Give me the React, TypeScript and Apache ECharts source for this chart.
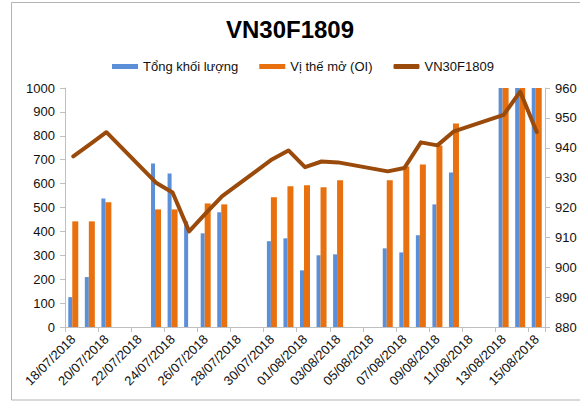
import React, { useEffect, useRef } from "react";
import * as echarts from "echarts";

const dates = [
  "18/07/2018", "19/07/2018", "20/07/2018", "21/07/2018", "22/07/2018",
  "23/07/2018", "24/07/2018", "25/07/2018", "26/07/2018", "27/07/2018",
  "28/07/2018", "29/07/2018", "30/07/2018", "31/07/2018", "01/08/2018",
  "02/08/2018", "03/08/2018", "04/08/2018", "05/08/2018", "06/08/2018",
  "07/08/2018", "08/08/2018", "09/08/2018", "10/08/2018", "11/08/2018",
  "12/08/2018", "13/08/2018", "14/08/2018", "15/08/2018",
];

const volume = [
  125, 209, 538, null, null,
  684, 642, 442, 392, 480,
  null, null, 359, 371, 237,
  300, 304, null, null, 329,
  312, 384, 513, 646, null,
  null, 1200, 1250, 1300,
];

const openInterest = [
  442, 442, 522, null, null,
  492, 492, null, 517, 513,
  null, null, 543, 589, 593,
  585, 614, null, null, 614,
  672, 680, 759, 851, null,
  null, 1150, 1200, 1250,
];

const price = [
  937.1, 941.1, 945.2, null, null,
  928.3, 925.0, 912.0, 918.0, 923.8,
  null, null, 936.1, 939.1, 933.5,
  935.4, 935.1, null, null, 932.1,
  933.2, 941.8, 940.8, 945.5, null,
  null, 951.0, 958.8, 945.3,
];

const FONT = "'Liberation Sans', Arial, sans-serif";
const AXIS_GREY = "#bfbfbf";

export default function App() {
  const ref = useRef<HTMLDivElement>(null);

  useEffect(() => {
    document.body.style.margin = "0";
    if (!ref.current) return;
    const chart = echarts.init(ref.current, undefined, { renderer: "svg" });
    chart.setOption({
      animation: false,
      textStyle: { fontFamily: FONT },
      title: {
        text: "VN30F1809",
        left: "center",
        top: 12,
        textStyle: { fontFamily: FONT, fontSize: 24, fontWeight: "bold", color: "#000" },
      },
      legend: {
        left: 107,
        top: 55,
        itemWidth: 26,
        itemHeight: 5,
        itemGap: 21,
        textStyle: { fontFamily: FONT, fontSize: 13, color: "#111" },
        data: [
          { name: "Tổng khối lượng", icon: "rect" },
          { name: "Vị thế mở (OI)", icon: "rect" },
          { name: "VN30F1809", icon: "roundRect" },
        ],
      },
      graphic: [
        {
          type: "rect",
          silent: true,
          z: -10,
          shape: { x: 11.5, y: 2.5, width: 620, height: 397.5 },
          style: { fill: "none", stroke: "#b3b3b3", lineWidth: 1 },
        },
      ],
      grid: { left: 65, right: 35, top: 88, bottom: 74 },
      xAxis: {
        type: "category",
        data: dates,
        boundaryGap: true,
        axisLine: { show: true, lineStyle: { color: AXIS_GREY } },
        axisTick: { show: true, interval: 1, length: 5, lineStyle: { color: AXIS_GREY } },
        axisLabel: {
          interval: 1,
          rotate: 45,
          margin: 10,
          fontSize: 13,
          fontFamily: FONT,
          color: "#111",
        },
        splitLine: { show: false },
      },
      yAxis: [
        {
          type: "value",
          min: 0,
          max: 1000,
          interval: 100,
          position: "left",
          axisLine: { show: true, lineStyle: { color: AXIS_GREY } },
          axisTick: { show: true, length: 5, lineStyle: { color: AXIS_GREY } },
          axisLabel: {
            fontSize: 13,
            fontFamily: FONT,
            color: "#111",
            margin: 10,
            formatter: (v: number) => String(v),
          },
          splitLine: { show: false },
        },
        {
          type: "value",
          min: 880,
          max: 960,
          interval: 10,
          position: "right",
          axisLine: { show: true, lineStyle: { color: AXIS_GREY } },
          axisTick: { show: true, length: 5, lineStyle: { color: AXIS_GREY } },
          axisLabel: {
            fontSize: 13,
            fontFamily: FONT,
            color: "#111",
            margin: 10,
            formatter: (v: number) => String(v),
          },
          splitLine: { show: false },
        },
      ],
      series: [
        {
          name: "Tổng khối lượng",
          type: "bar",
          yAxisIndex: 0,
          data: volume,
          barWidth: 4,
          barGap: "0%",
          itemStyle: { color: "#5b8fd8" },
        },
        {
          name: "Vị thế mở (OI)",
          type: "bar",
          yAxisIndex: 0,
          data: openInterest,
          barWidth: 6,
          barGap: "0%",
          itemStyle: { color: "#e8700e" },
        },
        {
          name: "VN30F1809",
          type: "line",
          yAxisIndex: 1,
          data: price,
          connectNulls: true,
          symbol: "none",
          showSymbol: false,
          z: 5,
          lineStyle: { color: "#9a4a0a", width: 4, cap: "round", join: "round" },
          itemStyle: { color: "#9a4a0a" },
        },
      ],
    });
    return () => chart.dispose();
  }, []);

  return <div ref={ref} style={{ width: 580, height: 401 }} />;
}
